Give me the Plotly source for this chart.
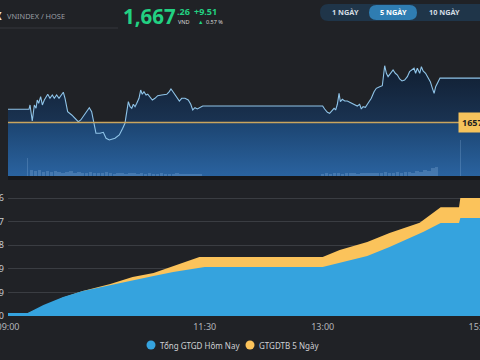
import plotly.graph_objects as go

W, H = 480, 360
def px(x):
    return x / W
def py(y):
    return 1 - y / H

BG = "#202226"
GREEN = "#22d182"

# ---------------- data ----------------
ref_price = 1657.75
last_price = "1,667"
last_dec = ".26"
change = "+9.51"
change_pct = "0.57 %"

# minutes after 09:00 and VN-Index value
price_min = [0, 16.0, 16.8, 18.5, 20.1, 21.4, 22.3, 23.4, 24.9, 26.2, 27.7, 30.3, 32.0, 33.8, 35.3,
             37.1, 38.9, 40.4, 42.2, 43.5, 45.5, 48.6, 51.1, 53.6, 55.5, 58.7, 62.0, 63.8, 65.8,
             67.1, 70.2, 72.7, 74.8, 77.3, 81.6, 84.9, 87.5, 89.2, 90.0, 91.8, 93.1, 94.4, 95.6,
             96.9, 98.2, 99.9, 101.2, 102.4, 103.7, 105.3, 106.6, 108.3, 110.1, 112.1, 114.2,
             117.2, 121.1, 123.0, 124.3, 126.1, 128.1, 130.7, 132.5, 135.0, 137.5, 139.4, 140.9,
             142.6, 144.4, 146.5, 148.5, 150.0, 240.0, 241.5, 243.6, 245.3, 247.1, 248.7, 249.9,
             251.2, 252.5, 253.5, 255.0, 256.8, 258.8, 260.6, 262.6, 264.4, 266.4, 268.2, 269.5,
             270.8, 272.6, 274.6, 277.1, 279.2, 280.9, 283.5, 285.5, 287.3, 288.6, 289.9, 291.6,
             293.7, 295.4, 297.0, 298.7, 300.5, 302.5, 304.6, 306.3, 308.2, 309.7, 310.9, 312.2,
             314.0, 315.3, 316.6, 318.5, 320.4, 322.1, 323.7, 325.0, 326.2, 328.0, 329.5, 360.0]
price_val = [1660.58, 1660.58, 1661.50, 1658.07, 1661.50, 1660.79, 1662.57, 1661.86, 1663.27, 1661.50,
             1662.57, 1663.79, 1662.93, 1663.64, 1662.93, 1663.64, 1662.93, 1663.64, 1664.22, 1662.93,
             1660.06, 1659.36, 1658.65, 1657.92, 1658.29, 1659.51, 1660.92, 1660.06, 1657.21, 1655.44,
             1655.44, 1655.65, 1654.37, 1654.00, 1654.37, 1655.07, 1656.51, 1657.58, 1658.99, 1662.20,
             1661.13, 1660.79, 1661.65, 1661.13, 1661.86, 1662.93, 1664.71, 1663.79, 1664.35, 1663.64,
             1663.79, 1663.06, 1662.57, 1662.93, 1663.49, 1663.64, 1663.79, 1664.35, 1664.92, 1664.22,
             1663.49, 1662.35, 1662.93, 1662.93, 1662.57, 1661.65, 1660.43, 1660.92, 1660.64, 1660.92,
             1661.28, 1661.28, 1661.28, 1660.64, 1659.93, 1659.72, 1660.43, 1660.79, 1660.43, 1661.65,
             1664.00, 1662.20, 1662.72, 1662.35, 1662.35, 1662.08, 1661.86, 1661.65, 1661.28, 1661.65,
             1660.64, 1661.13, 1661.00, 1661.86, 1662.93, 1664.35, 1665.07, 1665.42, 1665.63, 1669.91,
             1668.29, 1667.56, 1668.29, 1668.99, 1668.29, 1667.92, 1667.06, 1666.64, 1666.85, 1667.56,
             1668.63, 1668.99, 1669.36, 1668.29, 1669.36, 1668.29, 1669.70, 1668.78, 1668.29, 1667.34,
             1666.49, 1665.07, 1664.00, 1665.42, 1666.49, 1667.26, 1667.26]

# matched volume (million shares) per 3-minute bucket
vol_min = [15, 18, 21, 24, 27, 30, 33, 36, 39, 42, 45, 48, 51, 54, 57, 60, 63, 66, 69, 72, 75, 78,
           81, 84, 87, 90, 93, 96, 99, 102, 105, 108, 111, 114, 117, 120, 123, 126, 129, 132, 135,
           138, 141, 144, 147,
           240, 243, 246, 249, 252, 255, 258, 261, 264, 267, 270, 273, 276, 279, 282, 285, 288, 291,
           294, 297, 300, 303, 306, 309, 312, 315, 318, 321, 324, 327, 345]
vol_val = [35, 12, 9, 11, 8, 10, 7, 9, 8, 6, 7, 9, 6, 7, 5, 6, 8, 5, 6, 5, 7, 5, 4, 6, 5, 4, 5, 6,
           4, 5, 4, 5, 4, 3, 5, 4, 3, 4, 5, 3, 4, 3, 4, 3, 4,
           4, 5, 4, 6, 5, 4, 5, 6, 5, 4, 5, 6, 5, 6, 5, 6, 7, 5, 6, 7, 6, 8, 7, 6, 9, 8, 12, 10, 15,
           18, 70]

# cumulative trading value (billion VND)
today_min = [0, 15, 27, 42, 57, 78, 95, 111, 126, 146, 150, 240, 253, 274, 291, 309, 317, 330, 344,
             345, 360]
today_val = [721, 721, 2608, 4495, 5882, 7270, 8490, 9378, 10322, 11265, 11543, 11543, 12486, 14095,
             16204, 18590, 19811, 21864, 21864, 23030, 23030]
avg5_min = [0, 15, 42, 57, 78, 95, 111, 126, 146, 150, 240, 253, 274, 291, 314, 330, 344, 345, 360]
avg5_val = [666, 666, 4328, 5882, 7547, 9156, 10100, 11765, 13873, 13873, 13873, 15538, 17425, 19533,
            21920, 25582, 25582, 27746, 27746]
value_ticks = [0, 5549, 11099, 16648, 22197, 27746]
time_ticks = [0, 150, 240, 360]
time_labels = ["09:00", "11:30", "13:00", "15:00"]
series_names = ["Tổng GTGD Hôm Nay", "GTGDTB 5 Ngày"]
period_buttons = ["1 NGÀY", "5 NGÀY", "10 NGÀY"]

# ---------------- figure ----------------
TOP_LO, TOP_HI = 1646.29, 1671.56
fig = go.Figure()

# band below reference
fig.add_trace(go.Scatter(
    x=[0, 360], y=[ref_price, ref_price], mode="lines", line=dict(width=0),
    fill="tozeroy", xaxis="x", yaxis="y", hoverinfo="skip", showlegend=False,
    fillgradient=dict(type="vertical", start=TOP_LO, stop=ref_price,
                      colorscale=[[0, "#2a63a0"], [1, "#1c4470"]])))
# price area
fig.add_trace(go.Scatter(
    x=price_min, y=price_val, mode="lines", line=dict(color="#8fc4e8", width=1.1),
    fill="tozeroy", xaxis="x", yaxis="y", showlegend=False, name="VNINDEX",
    fillgradient=dict(type="vertical", start=ref_price, stop=TOP_HI,
                      colorscale=[[0, "rgba(0,0,0,0)"], [0.01, "#1a3352"], [1, "#0f1b2c"]])))
# volume
bar_w = [1.0 if v >= 30 else 2.6 for v in vol_val]
fig.add_trace(go.Bar(
    x=vol_min, y=vol_val, xaxis="x", yaxis="y3", width=bar_w,
    marker=dict(color="rgba(170,205,240,0.22)", line=dict(width=0)), showlegend=False))

# bottom areas
fig.add_trace(go.Scatter(
    x=avg5_min, y=avg5_val, mode="lines", line=dict(width=0, color="#fbc35b"),
    fill="tozeroy", fillcolor="#fbc35b", xaxis="x2", yaxis="y2", name=series_names[1],
    showlegend=False))
fig.add_trace(go.Scatter(
    x=today_min, y=today_val, mode="lines", line=dict(width=0, color="#35a3de"),
    fill="tozeroy", fillcolor="#35a3de", xaxis="x2", yaxis="y2", name=series_names[0],
    showlegend=False))

XD = [px(8), 1]
fig.update_layout(
    width=W, height=H, margin=dict(l=0, r=0, t=0, b=0, autoexpand=False),
    paper_bgcolor=BG, plot_bgcolor="rgba(0,0,0,0)",
    font=dict(family="Noto Sans", color="#c8cacd"),
    bargap=0,
    xaxis=dict(domain=XD, range=[0, 360], visible=False, fixedrange=True, automargin=False),
    yaxis=dict(domain=[py(176), py(58)], range=[TOP_LO, TOP_HI], visible=False, automargin=False),
    yaxis3=dict(domain=[py(176), py(58)], range=[0, 230], overlaying="y", visible=False,
                automargin=False),
    xaxis2=dict(domain=XD, range=[0, 360], anchor="y2", tickvals=time_ticks, ticktext=time_labels,
                showgrid=False, zeroline=False, showline=False, ticks="", automargin=False,
                ticklabelstandoff=4, ticklabeloverflow="allow",
                tickfont=dict(size=9, color="#b4b6ba")),
    yaxis2=dict(domain=[py(316), py(190)], range=[0, 29628], anchor="x2", tickvals=value_ticks,
                ticktext=[f"{v:,}" for v in value_ticks], showgrid=True, gridcolor="#3a3d42",
                gridwidth=1, zeroline=False, ticks="", ticklabelstandoff=3, automargin=False,
                ticklabeloverflow="allow", tickfont=dict(size=9, color="#c8cacd")),
)

shapes = []
# reference line
shapes.append(dict(type="line", xref="x", yref="y", x0=0, x1=360, y0=ref_price, y1=ref_price,
                   line=dict(color="#c9a55e", width=1.5)))
# dark strip under price panel
shapes.append(dict(type="rect", xref="paper", yref="paper", x0=px(8), x1=1, y0=py(180), y1=py(176),
                   fillcolor="#16181c", line=dict(width=0)))
# header separator
shapes.append(dict(type="line", xref="paper", yref="paper", x0=0, x1=px(118), y0=py(28), y1=py(28),
                   line=dict(color="#34373c", width=1)))

def rrect(x0, y0, x1, y1, r, color):
    X = lambda v: px(v)
    Y = lambda v: py(v)
    path = (f"M {X(x0+r)},{Y(y0)} L {X(x1-r)},{Y(y0)} Q {X(x1)},{Y(y0)} {X(x1)},{Y(y0+r)} "
            f"L {X(x1)},{Y(y1-r)} Q {X(x1)},{Y(y1)} {X(x1-r)},{Y(y1)} L {X(x0+r)},{Y(y1)} "
            f"Q {X(x0)},{Y(y1)} {X(x0)},{Y(y1-r)} L {X(x0)},{Y(y0+r)} Q {X(x0)},{Y(y0)} {X(x0+r)},{Y(y0)} Z")
    return dict(type="path", xref="paper", yref="paper", path=path, fillcolor=color, line=dict(width=0))

shapes.append(rrect(320, 4, 500, 21, 8.5, "#1f3549"))
shapes.append(rrect(369, 5, 417, 20, 7.5, "#2f7db2"))
# legend markers
shapes.append(dict(type="circle", xref="paper", yref="paper", x0=px(146.5), x1=px(155.5),
                   y0=py(349.5), y1=py(340.5), fillcolor="#35a3de", line=dict(width=0)))
shapes.append(dict(type="circle", xref="paper", yref="paper", x0=px(245.5), x1=px(254.5),
                   y0=py(349.5), y1=py(340.5), fillcolor="#fbc35b", line=dict(width=0)))
fig.update_layout(shapes=shapes)

ann = []
def text(x, y, s, size, color, anchor="left", bold=False, **kw):
    ann.append(dict(xref="paper", yref="paper", x=px(x), y=py(y), text=f"<b>{s}</b>" if bold else s,
                    showarrow=False, xanchor=anchor, yanchor="middle",
                    font=dict(size=size, color=color, family="Noto Sans"), **kw))

text(4, 16, "X", 10, "#e8e8e8", anchor="right", bold=True)
text(5, 16, "VNINDEX / HOSE", 7.4, "#9a9fa5")
text(121, 16, last_price, 20.5, GREEN, bold=True)
text(175, 12, last_dec, 9, GREEN, bold=True)
text(175.5, 21.5, "VND", 5.5, "#d8d8d8")
text(192, 12, change, 9, GREEN, bold=True)
text(196, 21.5, "▲", 5.5, GREEN)
text(203.5, 21.5, change_pct, 5.5, "#d8d8d8")
text(345, 12.5, period_buttons[0], 7.3, "#d4dce4", anchor="center", bold=True)
text(393, 12.5, period_buttons[1], 7.3, "#ffffff", anchor="center", bold=True)
text(444, 12.5, period_buttons[2], 7.3, "#d4dce4", anchor="center", bold=True)
# reference price tag
ann.append(dict(xref="paper", yref="y", x=px(458), y=ref_price, text="<b>1657.75</b>", showarrow=False,
                xanchor="left", yanchor="middle", bgcolor="#f6c35c", borderpad=3,
                font=dict(size=9, color="#1e1e1e", family="Noto Sans")))
# legend texts
text(157.5, 345, series_names[0], 8, "#cfd1d4")
text(257, 345, series_names[1], 8, "#cfd1d4")
fig.update_layout(annotations=ann)

fig.write_html("out.html", config={"displayModeBar": False},
               post_script="document.body.style.margin='0';document.body.style.background='%s';" % BG)
